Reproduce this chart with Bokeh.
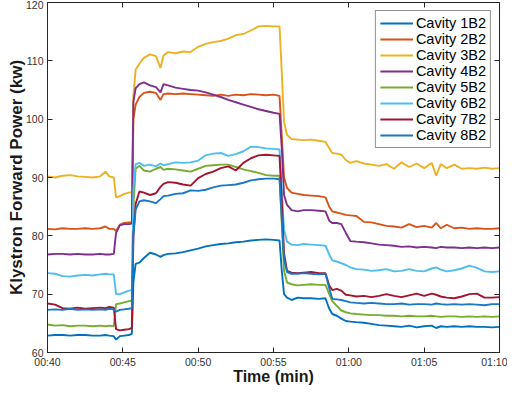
from bokeh.plotting import figure
from bokeh.models import LinearAxis, Legend, LegendItem, FixedTicker, Range1d
from bokeh.embed import file_html
from bokeh.resources import INLINE

# time in minutes (00:40 -> 40)
T = [40.0, 40.5, 41.0, 41.5, 42.0, 42.5, 43.0, 43.5, 43.85, 44.1,
     44.4, 44.55, 44.8, 45.1, 45.4, 45.6, 45.7, 45.85, 46.1, 46.4,
     46.8, 47.2, 47.5, 47.7, 48.0, 48.5, 49.0, 49.5, 50.0, 50.5,
     51.0, 51.5, 52.0, 52.5, 53.0, 53.5, 54.0, 54.5, 55.0, 55.4,
     55.55, 55.7, 55.9, 56.2, 56.6, 57.0, 57.5, 58.0, 58.45, 58.7,
     58.9, 59.2, 59.5, 59.8, 60.1, 60.5, 61.0, 61.5, 62.0, 62.5,
     63.0, 63.5, 64.0, 64.5, 65.0, 65.5, 65.8, 66.1, 66.5, 67.0,
     67.5, 68.0, 68.5, 69.0, 69.5, 70.0]

cav1 = [62.9, 63.0, 63.0, 62.9, 63.0, 63.0, 62.9, 62.9, 63.0, 62.9,
        62.8, 62.2, 62.8, 62.9, 63.0, 63.2, 72.0, 75.2, 75.4, 76.2,
        77.1, 76.8, 76.4, 76.7, 76.9, 77.0, 77.2, 77.5, 77.8, 78.2,
        78.4, 78.6, 78.7, 78.9, 79.0, 79.2, 79.3, 79.4, 79.3, 79.2,
        74.0, 70.0, 69.4, 69.0, 69.4, 69.3, 69.3, 69.2, 69.3, 67.5,
        66.6, 66.3, 65.8, 65.4, 65.3, 65.2, 65.1, 64.9, 64.7, 64.6,
        64.5, 64.4, 64.6, 64.3, 64.5, 64.6, 64.2, 64.5, 64.4, 64.5,
        64.4, 64.5, 64.4, 64.4, 64.3, 64.4]

cav2 = [81.2, 81.1, 81.3, 81.2, 81.2, 81.3, 81.2, 81.3, 81.6, 81.2,
        81.2, 80.8, 81.9, 82.2, 82.3, 82.3, 100.0, 102.5, 103.8, 104.5,
        104.7, 104.5, 103.3, 104.3, 104.4, 104.3, 104.4, 104.3, 104.2, 104.1,
        104.0, 104.2, 104.0, 104.2, 104.1, 104.3, 104.2, 104.1, 104.2, 104.0,
        97.0, 90.0, 88.2, 87.4, 87.2, 87.0, 86.9, 86.8, 86.6, 85.0,
        84.2, 84.0, 83.8, 83.6, 83.5, 83.4, 82.4, 82.3, 82.0, 81.7,
        81.6, 81.4, 82.0, 81.5, 81.7, 81.4, 82.2, 81.3, 81.9, 81.3,
        81.4, 81.2, 81.3, 81.2, 81.2, 81.3]

cav3 = [90.2, 90.0, 90.3, 90.4, 90.2, 90.1, 90.0, 90.2, 91.0, 90.2,
        90.0, 86.6, 86.8, 87.2, 87.4, 87.5, 104.0, 108.5, 109.5, 110.5,
        111.1, 110.8, 108.8, 110.9, 111.5, 111.3, 111.6, 111.5, 112.4, 112.9,
        113.2, 113.4, 113.8, 114.4, 114.6, 115.2, 115.9, 116.0, 115.9, 115.9,
        108.0, 99.5, 97.3, 96.6, 96.5, 96.4, 96.5, 96.3, 96.1, 95.0,
        94.2, 94.1, 93.9, 93.0, 92.5, 92.8, 92.4, 92.2, 92.0, 92.3,
        91.5, 92.6, 91.8, 92.4, 91.6, 92.5, 90.3, 92.3, 91.6, 92.2,
        91.5, 91.6, 91.5, 91.7, 91.5, 91.6]

cav4 = [76.8, 76.9, 76.9, 76.8, 76.9, 76.8, 76.8, 76.9, 76.8, 76.8,
        76.9, 80.5, 81.8, 82.0, 82.0, 82.1, 103.0, 105.3, 106.0, 106.3,
        105.8, 105.5, 104.6, 106.0, 105.8, 105.4, 105.2, 105.0, 104.9, 104.6,
        104.2, 103.8, 103.3, 102.9, 102.5, 102.1, 101.7, 101.4, 101.1, 100.9,
        95.0, 87.0, 85.3, 84.4, 84.2, 84.4, 84.4, 84.3, 84.2, 82.6,
        82.2, 82.2, 82.0, 80.5, 79.1, 79.0, 78.9, 78.7, 78.5, 78.4,
        78.3, 78.1, 78.2, 78.0, 78.1, 78.0, 77.9, 78.1, 78.0, 78.0,
        77.9, 78.0, 77.9, 78.0, 77.9, 78.0]

cav5 = [64.8, 64.6, 64.7, 64.5, 64.6, 64.6, 64.5, 64.6, 64.5, 64.6,
        64.5, 68.3, 68.4, 68.6, 68.8, 68.9, 85.0, 91.5, 92.0, 91.2,
        91.0, 91.5, 91.8, 91.3, 91.5, 91.4, 91.2, 91.0, 91.5, 92.0,
        92.1, 92.2, 92.2, 91.8, 91.4, 91.1, 90.8, 90.4, 90.3, 90.3,
        82.0, 74.0, 72.0, 71.7, 71.5, 71.6, 71.7, 71.6, 71.6, 70.0,
        68.8, 68.0, 67.2, 66.9, 66.7, 66.6, 66.5, 66.4, 66.4, 66.3,
        66.3, 66.2, 66.3, 66.2, 66.2, 66.3, 66.2, 66.1, 66.2, 66.2,
        66.1, 66.2, 66.1, 66.2, 66.1, 66.2]

cav6 = [73.6, 73.5, 73.1, 73.0, 73.2, 73.3, 73.2, 73.4, 73.5, 73.4,
        73.4, 70.0, 70.0, 70.3, 70.6, 70.7, 88.0, 92.3, 92.5, 92.0,
        92.2, 91.9, 92.4, 92.1, 92.3, 92.6, 92.5, 92.6, 92.9, 93.8,
        94.1, 94.2, 93.7, 94.0, 94.5, 95.3, 95.2, 95.0, 94.9, 94.8,
        88.0, 81.0, 79.0, 78.5, 78.4, 78.6, 78.5, 78.4, 78.3, 76.8,
        75.8, 75.6, 75.3, 75.0, 74.6, 74.3, 74.2, 74.0, 74.1, 74.3,
        73.9, 74.0, 74.3, 74.0, 73.9, 74.4, 74.6, 74.2, 73.9, 74.1,
        74.4, 74.9, 74.5, 73.9, 73.8, 73.9]

cav7 = [68.4, 68.2, 67.6, 67.5, 67.7, 67.5, 67.6, 67.7, 67.6, 67.8,
        67.7, 64.0, 63.8, 63.9, 64.0, 64.2, 80.0, 85.5, 87.6, 87.4,
        87.0, 87.3, 88.4, 88.9, 89.2, 89.1, 88.8, 88.6, 89.9, 90.6,
        91.0, 91.6, 91.9, 91.2, 92.5, 93.3, 93.8, 93.9, 93.8, 93.7,
        86.0, 77.0, 74.0, 73.7, 73.6, 73.7, 73.8, 73.6, 73.6, 71.5,
        70.7, 70.9, 70.6, 69.9, 69.8, 69.6, 69.7, 69.5, 69.7, 70.0,
        69.7, 69.5, 69.8, 70.1, 69.7, 70.1, 69.9, 69.6, 69.4, 69.3,
        69.6, 70.0, 70.1, 69.4, 69.4, 69.5]

cav8 = [67.3, 67.4, 67.3, 67.5, 67.3, 67.4, 67.3, 67.4, 67.3, 67.5,
        67.4, 67.0, 67.3, 67.4, 67.5, 67.6, 80.0, 84.5, 85.9, 86.1,
        85.9, 85.6, 86.3, 86.8, 86.9, 87.2, 87.3, 87.8, 87.7, 87.9,
        88.3, 88.6, 88.7, 88.8, 89.1, 89.5, 89.7, 89.8, 89.8, 89.7,
        83.0, 76.0, 73.8, 73.5, 73.5, 73.6, 73.5, 73.4, 73.5, 71.0,
        69.2, 69.1, 69.0, 68.8, 68.6, 68.5, 68.4, 68.5, 68.4, 68.3,
        68.3, 68.4, 68.2, 68.3, 68.3, 68.2, 68.4, 68.3, 68.2, 68.3,
        68.2, 68.3, 68.2, 68.1, 68.3, 68.3]

series = [cav1, cav2, cav3, cav4, cav5, cav6, cav7, cav8]
labels = ["Cavity 1B2", "Cavity 2B2", "Cavity 3B2", "Cavity 4B2",
          "Cavity 5B2", "Cavity 6B2", "Cavity 7B2", "Cavity 8B2"]
colors = ["#0072BD", "#D95319", "#EDB120", "#7E2F8E",
          "#77AC30", "#4DBEEE", "#A2142F", "#1878C8"]

x_ticks = [40, 45, 50, 55, 60, 65, 70]
x_tick_labels = ["00:40", "00:45", "00:50", "00:55", "01:00", "01:05", "01:10"]
y_ticks = [60, 70, 80, 90, 100, 110, 120]
x_title = "Time (min)"
y_title = "Klystron Forward Power (kw)"

FONT = "Liberation Sans"
AX = "#262626"

p = figure(width=507, height=387, output_backend="svg", toolbar_location=None,
           x_range=Range1d(40, 70), y_range=Range1d(60, 120),
           min_border_left=47, min_border_right=8, min_border_top=2,
           min_border_bottom=28,
           x_axis_label=x_title, y_axis_label=y_title)
p.grid.visible = False
p.outline_line_color = AX
p.outline_line_width = 1
p.background_fill_color = "white"

p.xaxis.ticker = FixedTicker(ticks=x_ticks)
p.xaxis.major_label_overrides = {t: s for t, s in zip(x_ticks, x_tick_labels)}
p.yaxis.ticker = FixedTicker(ticks=y_ticks)

for ax in [p.xaxis[0], p.yaxis[0]]:
    ax.major_tick_in = 5
    ax.major_tick_out = 0
    ax.minor_tick_line_color = None
    ax.axis_line_color = AX
    ax.major_tick_line_color = AX
    ax.major_label_text_font = FONT
    ax.major_label_text_font_size = "10.5px"
    ax.major_label_text_color = "#333333"
    ax.axis_label_text_font = FONT
    ax.axis_label_text_font_style = "bold"
    ax.axis_label_text_color = "#1a1a1a"

p.xaxis.major_label_standoff = 3
p.xaxis.axis_label_standoff = -3
p.xaxis.axis_label_text_font_size = "16px"
p.yaxis.major_label_standoff = 4
p.yaxis.axis_label_standoff = -3
p.yaxis.axis_label_text_font_size = "17px"

top = LinearAxis(ticker=FixedTicker(ticks=x_ticks),
                 major_label_overrides={t: "" for t in x_ticks},
                 major_label_standoff=0, major_tick_in=5, major_tick_out=0,
                 minor_tick_line_color=None, axis_line_color=AX, major_tick_line_color=AX)
right = LinearAxis(ticker=FixedTicker(ticks=y_ticks),
                   major_label_overrides={t: "" for t in y_ticks},
                   major_label_standoff=0, major_tick_in=5, major_tick_out=0,
                   minor_tick_line_color=None, axis_line_color=AX, major_tick_line_color=AX)
p.add_layout(top, "above")
p.add_layout(right, "right")

items = []
for vals, lab, col in zip(series, labels, colors):
    r = p.line(T, vals, line_color=col, line_width=1.9)
    items.append(LegendItem(label=lab, renderers=[r]))

legend = Legend(items=items, location="top_right", margin=8, padding=4, spacing=0,
                glyph_width=33, glyph_height=16, label_height=16, label_standoff=3,
                label_text_font=FONT, label_text_font_size="14.5px",
                label_text_color="#000000",
                border_line_color=AX, border_line_width=1,
                background_fill_color="white", background_fill_alpha=1.0)
p.add_layout(legend)

open("out.html", "w").write(file_html(p, INLINE))
